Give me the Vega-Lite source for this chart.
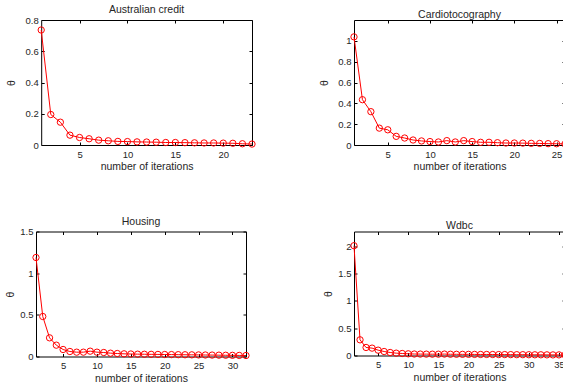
{
  "$schema": "https://vega.github.io/schema/vega-lite/v6.json",
  "padding": {"left": 5, "top": 5, "right": 0, "bottom": 0},
  "datasets": {
    "aus": [
      {"iter": 1, "theta": 0.736}, {"iter": 2, "theta": 0.195}, {"iter": 3, "theta": 0.146}, {"iter": 4, "theta": 0.063},
      {"iter": 5, "theta": 0.048}, {"iter": 6, "theta": 0.040}, {"iter": 7, "theta": 0.031}, {"iter": 8, "theta": 0.027},
      {"iter": 9, "theta": 0.023}, {"iter": 10, "theta": 0.022}, {"iter": 11, "theta": 0.020}, {"iter": 12, "theta": 0.019},
      {"iter": 13, "theta": 0.018}, {"iter": 14, "theta": 0.016}, {"iter": 15, "theta": 0.016}, {"iter": 16, "theta": 0.015},
      {"iter": 17, "theta": 0.014}, {"iter": 18, "theta": 0.013}, {"iter": 19, "theta": 0.013}, {"iter": 20, "theta": 0.012},
      {"iter": 21, "theta": 0.011}, {"iter": 22, "theta": 0.008}, {"iter": 23, "theta": 0.006}
    ],
    "cardio": [
      {"iter": 1, "theta": 1.038}, {"iter": 2, "theta": 0.435}, {"iter": 3, "theta": 0.320}, {"iter": 4, "theta": 0.162},
      {"iter": 5, "theta": 0.146}, {"iter": 6, "theta": 0.083}, {"iter": 7, "theta": 0.067}, {"iter": 8, "theta": 0.048},
      {"iter": 9, "theta": 0.039}, {"iter": 10, "theta": 0.033}, {"iter": 11, "theta": 0.029}, {"iter": 12, "theta": 0.042},
      {"iter": 13, "theta": 0.029}, {"iter": 14, "theta": 0.042}, {"iter": 15, "theta": 0.033}, {"iter": 16, "theta": 0.026},
      {"iter": 17, "theta": 0.026}, {"iter": 18, "theta": 0.022}, {"iter": 19, "theta": 0.019}, {"iter": 20, "theta": 0.019},
      {"iter": 21, "theta": 0.018}, {"iter": 22, "theta": 0.016}, {"iter": 23, "theta": 0.015}, {"iter": 24, "theta": 0.013},
      {"iter": 25, "theta": 0.012}, {"iter": 26, "theta": 0.010}
    ],
    "housing": [
      {"iter": 1, "theta": 1.188}, {"iter": 2, "theta": 0.480}, {"iter": 3, "theta": 0.224}, {"iter": 4, "theta": 0.136},
      {"iter": 5, "theta": 0.084}, {"iter": 6, "theta": 0.060}, {"iter": 7, "theta": 0.052}, {"iter": 8, "theta": 0.052},
      {"iter": 9, "theta": 0.064}, {"iter": 10, "theta": 0.052}, {"iter": 11, "theta": 0.048}, {"iter": 12, "theta": 0.040},
      {"iter": 13, "theta": 0.036}, {"iter": 14, "theta": 0.032}, {"iter": 15, "theta": 0.030}, {"iter": 16, "theta": 0.028},
      {"iter": 17, "theta": 0.027}, {"iter": 18, "theta": 0.026}, {"iter": 19, "theta": 0.025}, {"iter": 20, "theta": 0.024},
      {"iter": 21, "theta": 0.023}, {"iter": 22, "theta": 0.022}, {"iter": 23, "theta": 0.021}, {"iter": 24, "theta": 0.020},
      {"iter": 25, "theta": 0.019}, {"iter": 26, "theta": 0.018}, {"iter": 27, "theta": 0.017}, {"iter": 28, "theta": 0.016},
      {"iter": 29, "theta": 0.015}, {"iter": 30, "theta": 0.014}, {"iter": 31, "theta": 0.013}, {"iter": 32, "theta": 0.012}
    ],
    "wdbc": [
      {"iter": 1, "theta": 2.010}, {"iter": 2, "theta": 0.287}, {"iter": 3, "theta": 0.147}, {"iter": 4, "theta": 0.135},
      {"iter": 5, "theta": 0.098}, {"iter": 6, "theta": 0.073}, {"iter": 7, "theta": 0.055}, {"iter": 8, "theta": 0.043},
      {"iter": 9, "theta": 0.037}, {"iter": 10, "theta": 0.031}, {"iter": 11, "theta": 0.027}, {"iter": 12, "theta": 0.026},
      {"iter": 13, "theta": 0.025}, {"iter": 14, "theta": 0.024}, {"iter": 15, "theta": 0.024}, {"iter": 16, "theta": 0.026},
      {"iter": 17, "theta": 0.023}, {"iter": 18, "theta": 0.022}, {"iter": 19, "theta": 0.021}, {"iter": 20, "theta": 0.021},
      {"iter": 21, "theta": 0.020}, {"iter": 22, "theta": 0.019}, {"iter": 23, "theta": 0.019}, {"iter": 24, "theta": 0.018},
      {"iter": 25, "theta": 0.017}, {"iter": 26, "theta": 0.017}, {"iter": 27, "theta": 0.016}, {"iter": 28, "theta": 0.015},
      {"iter": 29, "theta": 0.015}, {"iter": 30, "theta": 0.014}, {"iter": 31, "theta": 0.013}, {"iter": 32, "theta": 0.013},
      {"iter": 33, "theta": 0.012}, {"iter": 34, "theta": 0.011}, {"iter": 35, "theta": 0.011}, {"iter": 36, "theta": 0.010}
    ]
  },
  "vconcat": [
    {
      "hconcat": [
        {
          "width": 216, "height": 125,
          "view": {"stroke": null},
          "title": {"text": "Australian credit", "dx": 2.6},
          "data": {"name": "aus"},
          "layer": [
            {
              "mark": {"type": "line", "color": "#ff0000", "strokeWidth": 1, "point": {"filled": false, "size": 40, "strokeWidth": 1, "color": "#ff0000"}},
              "encoding": {
                "x": {"field": "iter", "type": "quantitative", "scale": {"domain": [1, 23], "range": [5.2, 216], "nice": false, "zero": false}, "axis": {"values": [5, 10, 15, 20], "title": "number of iterations", "domain": true, "domainColor": "#000000"}},
                "y": {"field": "theta", "type": "quantitative", "scale": {"domain": [0, 0.8], "nice": false}, "axis": {"values": [0, 0.2, 0.4, 0.6, 0.8], "format": "~g", "title": "θ", "titlePadding": 8, "offset": -5.2, "domain": true, "domainColor": "#000000"}}
              }
            },
            {
              "mark": {"type": "line", "opacity": 0},
              "encoding": {
                "x": {"field": "iter", "type": "quantitative", "axis": {"orient": "top", "labels": false, "title": null, "values": [5, 10, 15, 20], "domain": true, "domainColor": "#000000"}},
                "y": {"field": "theta", "type": "quantitative", "axis": {"orient": "right", "labels": false, "title": null, "values": [0, 0.2, 0.4, 0.6, 0.8], "domain": true, "domainColor": "#000000"}}
              }
            }
          ],
          "resolve": {"axis": {"x": "independent", "y": "independent"}}
        },
        {
          "width": 211, "height": 125,
          "title": "Cardiotocography",
          "data": {"name": "cardio"},
          "layer": [
            {
              "mark": {"type": "line", "color": "#ff0000", "strokeWidth": 1, "point": {"filled": false, "size": 40, "strokeWidth": 1, "color": "#ff0000"}},
              "encoding": {
                "x": {"field": "iter", "type": "quantitative", "scale": {"domain": [1, 26], "nice": false, "zero": false}, "axis": {"values": [5, 10, 15, 20, 25], "title": "number of iterations"}},
                "y": {"field": "theta", "type": "quantitative", "scale": {"domain": [0, 1.2], "nice": false}, "axis": {"values": [0, 0.2, 0.4, 0.6, 0.8, 1], "format": "~g", "title": "θ", "titlePadding": 8}}
              }
            },
            {
              "mark": {"type": "line", "opacity": 0},
              "encoding": {
                "x": {"field": "iter", "type": "quantitative", "axis": {"orient": "top", "labels": false, "title": null, "values": [5, 10, 15, 20, 25]}},
                "y": {"field": "theta", "type": "quantitative", "axis": {"orient": "right", "labels": false, "title": null, "values": [0, 0.2, 0.4, 0.6, 0.8, 1]}}
              }
            }
          ],
          "resolve": {"axis": {"x": "independent", "y": "independent"}}
        }
      ],
      "bounds": "flush",
      "spacing": 102
    },
    {
      "hconcat": [
        {
          "width": 210, "height": 125,
          "title": "Housing",
          "data": {"name": "housing"},
          "layer": [
            {
              "mark": {"type": "line", "color": "#ff0000", "strokeWidth": 1, "point": {"filled": false, "size": 40, "strokeWidth": 1, "color": "#ff0000"}},
              "encoding": {
                "x": {"field": "iter", "type": "quantitative", "scale": {"domain": [1, 32], "nice": false, "zero": false}, "axis": {"values": [5, 10, 15, 20, 25, 30], "title": "number of iterations"}},
                "y": {"field": "theta", "type": "quantitative", "scale": {"domain": [0, 1.5], "nice": false}, "axis": {"values": [0, 0.5, 1, 1.5], "format": "~g", "title": "θ", "titlePadding": 4}}
              }
            },
            {
              "mark": {"type": "line", "opacity": 0},
              "encoding": {
                "x": {"field": "iter", "type": "quantitative", "axis": {"orient": "top", "labels": false, "title": null, "values": [5, 10, 15, 20, 25, 30]}},
                "y": {"field": "theta", "type": "quantitative", "axis": {"orient": "right", "labels": false, "title": null, "values": [0, 0.5, 1, 1.5]}}
              }
            }
          ],
          "resolve": {"axis": {"x": "independent", "y": "independent"}}
        },
        {
          "width": 211, "height": 124,
          "title": "Wdbc",
          "data": {"name": "wdbc"},
          "layer": [
            {
              "mark": {"type": "line", "color": "#ff0000", "strokeWidth": 1, "point": {"filled": false, "size": 40, "strokeWidth": 1, "color": "#ff0000"}},
              "encoding": {
                "x": {"field": "iter", "type": "quantitative", "scale": {"domain": [1, 36], "nice": false, "zero": false}, "axis": {"values": [5, 10, 15, 20, 25, 30, 35], "title": "number of iterations"}},
                "y": {"field": "theta", "type": "quantitative", "scale": {"domain": [0, 2.27], "nice": false}, "axis": {"values": [0, 0.5, 1, 1.5, 2], "format": "~g", "title": "θ", "titlePadding": 4}}
              }
            },
            {
              "mark": {"type": "line", "opacity": 0},
              "encoding": {
                "x": {"field": "iter", "type": "quantitative", "axis": {"orient": "top", "labels": false, "title": null, "values": [5, 10, 15, 20, 25, 30, 35]}},
                "y": {"field": "theta", "type": "quantitative", "axis": {"orient": "right", "labels": false, "title": null, "values": [0, 0.5, 1, 1.5, 2]}}
              }
            }
          ],
          "resolve": {"axis": {"x": "independent", "y": "independent"}}
        }
      ],
      "bounds": "flush",
      "spacing": 108
    }
  ],
  "spacing": 42.5,
  "config": {
    "view": {"stroke": "#000000", "strokeWidth": 1},
    "axis": {
      "grid": false,
      "domain": false,
      "tickColor": "#000000",
      "tickSize": -3,
      "tickWidth": 1,
      "labelFont": "Liberation Sans",
      "labelFontSize": 9.5,
      "labelColor": "#262626",
      "labelFlush": false,
      "titleFont": "Liberation Sans",
      "titleFontSize": 10.5,
      "titleFontWeight": "normal",
      "titleColor": "#262626"
    },
    "axisX": {"labelPadding": 7, "titlePadding": 3},
    "axisY": {"labelPadding": 6},
    "title": {"font": "Liberation Sans", "fontSize": 10.5, "fontWeight": "normal", "color": "#262626", "offset": -0.5}
  }
}
